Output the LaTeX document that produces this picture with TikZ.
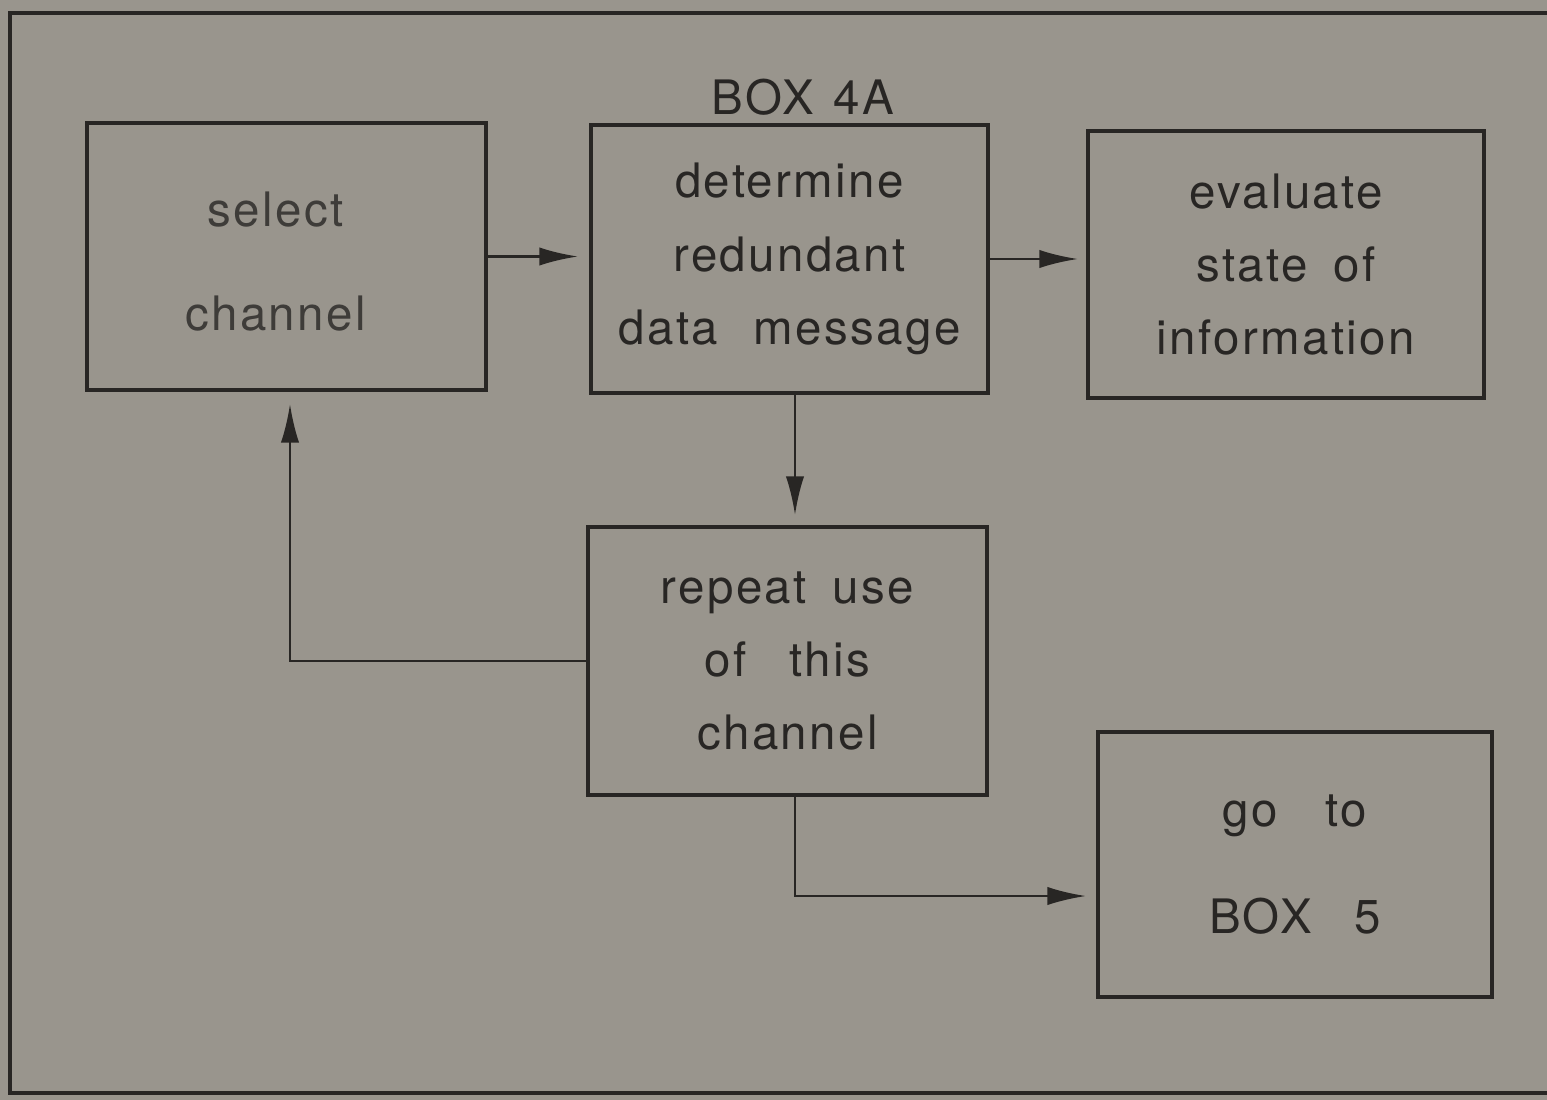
\documentclass[tikz,border=0pt]{standalone}
\usepackage{fontspec}
\setmainfont{TeX Gyre Heros}[LetterSpace=5]
\usetikzlibrary{arrows.meta}
\definecolor{paper}{RGB}{153,149,141}
\definecolor{ink}{RGB}{40,38,36}
\definecolor{fadedink}{RGB}{62,60,57}
\tikzset{
  boxnode/.style={draw=ink, line width=1.0pt, rectangle, inner sep=0pt,
    align=center, text=ink, font=\fontsize{13.5}{20.8}\selectfont},
  link/.style={draw=ink, line width=0.8pt},
  arr/.style={link, -{Latex[length=11pt,width=5.2pt]}},
}
\newcommand{\gap}{\hspace{0.55em}}
\begin{document}
\begin{tikzpicture}[x=0.01cm,y=-0.01cm]
  % page and outer frame
  \fill[paper] (0,0) rectangle (1547,1100);
  \useasboundingbox (0,0) rectangle (1547,1100);
  \draw[ink, line width=1.2pt] (1547,13) -- (10,13) -- (10,1093) -- (1547,1093);

  % process boxes
  \node[boxnode, minimum width=3.99cm, minimum height=2.67cm] (sel) at (286.5,256.5) {};
  \node[text=fadedink, align=center, inner sep=0pt,
        font=\fontsize{13.5}{29.5}\selectfont]
        (seltext) at ([xshift=-0.11cm,yshift=-0.05cm]sel.center) {select\\channel};
  \node[boxnode, minimum width=3.97cm, minimum height=2.68cm]
        (det) at (789.5,259) {determine\\redundant\\data\hspace{0.75em}message};
  \node[boxnode, minimum width=3.96cm, minimum height=2.67cm]
        (ev) at (1286,264.5) {evaluate\\state\gap of\\information};
  \node[boxnode, minimum width=3.99cm, minimum height=2.68cm]
        (rep) at (787.5,661) {repeat\gap use\\of\hspace{0.9em}this\\channel};
  \node[boxnode, minimum width=3.94cm, minimum height=2.65cm,
        font=\fontsize{13.5}{30.5}\selectfont]
        (go) at (1295,864.5) {go\hspace{1.0em}to\\BOX\hspace{0.9em}5};

  % heading above the middle box
  \node[text=ink, font=\fontsize{13.5}{16}\selectfont, inner sep=0pt]
        (title) at (803,97) {BOX\hspace{0.4em}4A};

  % connectors
  \draw[arr, shorten >=0.11cm] (sel.east) -- (sel.east -| det.west);
  \draw[arr, shorten >=0.08cm] (det.east) -- (det.east -| ev.west);
  \draw[arr, shorten >=0.10cm] ([xshift=0.055cm]det.south)
        -- ([xshift=0.055cm]det.south |- rep.north);
  \draw[arr, shorten >=0.12cm] (rep.west) -| ([xshift=0.035cm]sel.south);
  \draw[arr, shorten >=0.10cm] ([xshift=0.075cm]rep.south)
        |- ([yshift=-0.315cm]go.west);
\end{tikzpicture}
\end{document}
